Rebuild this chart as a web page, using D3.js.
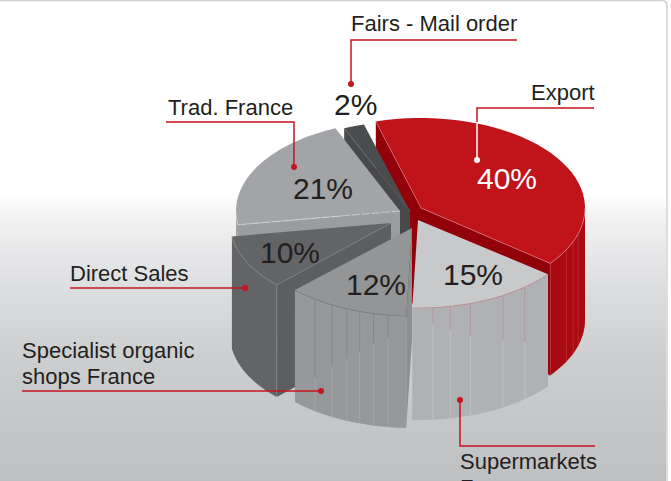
<!DOCTYPE html>
<html><head><meta charset="utf-8">
<script src="https://cdnjs.cloudflare.com/ajax/libs/d3/7.8.5/d3.min.js"></script>
<style>html,body{margin:0;padding:0;background:#fff;overflow:hidden}svg{display:block}text{font-family:"Liberation Sans",Arial,sans-serif;fill:#231f20}</style>
</head><body><svg id="c" width="671" height="481"></svg>
<script>
// ---- data ----
const categories = ["Export","Supermarkets France","Specialist organic shops France","Direct Sales","Trad. France","Fairs - Mail order"];
const values = [40,15,12,10,21,2];
const valueLabels = ["40%","15%","12%","10%","21%","2%"];

// ---- layout / style ----
const W=671,H=481,DEPTH=112,START=-16;
const centers=[[421,208],[418,220],[412,228],[391,223],[400,211],[410,211]];
const radii=[[164,90],[165,88],[165,88],[161,88],[164,90],[167,90]];
const topFill=["#c0131a","#c8c9cb","#949597","#636466","#a3a4a7","#4a4c4e"];
const wallFill=["#a90a12","#b0b1b4","#97989a","#636466","#a0a1a4","#47494b"];
const sideFill=["#92000a","#b0b1b4","#8d8e90","#5d5e60","#9b9c9f","#47494b"];
const rimStroke=["#e58a8f","#c08f92","#77787a","#8d8e90","#d9dadb","#6a6c6e"];
const paintOrder=[0,5,4,3,2,1];
const seams=[[117.6,111.9,106.7,128],[174.8,168.7,161.5,149,139.7],[216,209,203.3,198.5,193.5,188.3],[],[],[]];
const seamSplit=[[112,112,112,112],[16,23,32,45,55],[78,62,50,40,30,22],[],[],[]];
const labelStyle={size:22};
const texts=[
 {lines:["Fairs - Mail order"],x:351,y:31},
 {lines:["Export"],x:531,y:100},
 {lines:["Trad. France"],x:168,y:115},
 {lines:["Direct Sales"],x:70,y:281},
 {lines:["Specialist organic","shops France"],x:22,y:358},
 {lines:["Supermarkets","France"],x:460,y:469}
];
const pctPos=[[477,189],[443,285],[346,295],[260,263],[293,199],[334,115]];
const leaders=[
 {pts:[[351,84],[351,40],[517,40]]},
 {pts:[[477,122],[477,108],[594,108]],white:[[477,160],[477,122]]},
 {pts:[[294,167],[294,122],[166,122]]},
 {pts:[[245,288],[70,288]]},
 {pts:[[321,391],[22,391]]},
 {pts:[[460,400],[460,446],[595,446]]}
];
const RED="#c4161f";

const svg=d3.select("#c");
const defs=svg.append("defs");
const bg=defs.append("linearGradient").attr("id","bg").attr("x1",0).attr("x2",0).attr("y1",0).attr("y2",1);
[[0,"#fff"],[0.405,"#fff"],[0.464,"#f0f0f1"],[0.603,"#dcdddf"],[0.742,"#cdcecf"],[0.879,"#c5c6c8"],[1,"#bfc0c2"]].forEach(s=>bg.append("stop").attr("offset",s[0]).attr("stop-color",s[1]));
svg.append("rect").attr("width",666).attr("height",H).attr("fill","url(#bg)");
svg.append("path").attr("d","M0,0.5H662Q667,0.5 667,6V481").attr("fill","none").attr("stroke","#d2d2d3").attr("stroke-width",1.5);

const rad=d=>d*Math.PI/180;
const pie=d3.pie().sort(null).startAngle(rad(START)).endAngle(rad(START+360));
const arcs=pie(values);
const line=d3.line();
const pt=(i,t)=>[centers[i][0]+radii[i][0]*Math.sin(t),centers[i][1]-radii[i][1]*Math.cos(t)];
const sample=(i,a,b)=>d3.range(0,41).map(k=>pt(i,a+(b-a)*k/40));
const down=p=>[p[0],p[1]+DEPTH];

paintOrder.forEach(i=>{
  const a=arcs[i],g=svg.append("g");
  const c=centers[i];
  if(Math.cos(a.startAngle-Math.PI/2)<0){
    const e=pt(i,a.startAngle);
    g.append("path").attr("d",line([c,e,down(e),down(c)])+"Z").attr("fill",sideFill[i]);
  }
  if(Math.cos(a.endAngle+Math.PI/2)<0){
    const e=pt(i,a.endAngle);
    g.append("path").attr("d",line([c,e,down(e),down(c)])+"Z").attr("fill",sideFill[i]);
  }
  const lo=Math.max(a.startAngle,rad(90)),hi=Math.min(a.endAngle,rad(270));
  if(hi>lo){
    const up=sample(i,lo,hi);
    g.append("path").attr("d",line(up.concat(up.map(down).reverse()))+"Z").attr("fill",wallFill[i]);
    seams[i].forEach((deg,k)=>{
      const p=pt(i,rad(deg)),q=down(p),m=[p[0],p[1]+seamSplit[i][k]];
      const light=i===0?"#c2323a":i===1?"#c6c7c9":"#a9aaac";
      const dark=i===0?"#c2323a":i===1?"#b58f93":"#7f8082";
      g.append("path").attr("d",line([m,q])).attr("stroke",light).attr("stroke-width",.7).attr("fill","none");
      g.append("path").attr("d",line([p,m])).attr("stroke",dark).attr("stroke-width",.7).attr("fill","none");
    });
  }
  const rim=sample(i,a.startAngle,a.endAngle);
  g.append("path").attr("d",line([c].concat(rim))+"Z").attr("fill",topFill[i]);
  if(hi>lo){
    const r=sample(i,lo,hi);
    g.append("path").attr("d",line(r)).attr("fill","none").attr("stroke",rimStroke[i]).attr("stroke-width",.7);
  }
  if(i===0){
    const e=pt(i,a.endAngle);
    g.append("path").attr("d",line([c,e])).attr("stroke",rimStroke[i]).attr("stroke-width",.6).attr("fill","none");
    const s=pt(i,a.startAngle);
    g.append("path").attr("d",line([c,s])).attr("stroke",rimStroke[i]).attr("stroke-width",.5).attr("fill","none");
  }
  if(i===3){
    const s=pt(i,a.startAngle);
    g.append("path").attr("d",line([c,s])).attr("stroke",rimStroke[i]).attr("stroke-width",.6).attr("fill","none");
    g.append("path").attr("d",line([s,down(s)])).attr("stroke",rimStroke[i]).attr("stroke-width",.7).attr("fill","none");
  }
  if(i===4){
    const s=pt(i,a.startAngle);
    g.append("path").attr("d",line([c,s])).attr("stroke",rimStroke[i]).attr("stroke-width",.8).attr("stroke-dasharray","9 1").attr("fill","none");
  }
  if(i===5){
    const s=pt(i,a.startAngle);
    g.append("path").attr("d",line([c,s])).attr("stroke",rimStroke[i]).attr("stroke-width",.6).attr("fill","none");
  }
});

leaders.forEach(l=>{
  svg.append("path").attr("d",line(l.pts)).attr("fill","none").attr("stroke",RED).attr("stroke-width",1.5);
  if(l.white){
    svg.append("path").attr("d",line(l.white)).attr("fill","none").attr("stroke","#fff").attr("stroke-width",1.5);
    svg.append("circle").attr("cx",l.white[0][0]).attr("cy",l.white[0][1]).attr("r",3).attr("fill","#fff");
  } else {
    svg.append("circle").attr("cx",l.pts[0][0]).attr("cy",l.pts[0][1]).attr("r",3).attr("fill",RED);
  }
});

texts.forEach(t=>{
  t.lines.forEach((s,k)=>{
    svg.append("text").attr("x",t.x).attr("y",t.y+k*26).attr("font-size",labelStyle.size).text(s);
  });
});
valueLabels.forEach((s,i)=>{
  svg.append("text").attr("x",pctPos[i][0]).attr("y",pctPos[i][1]).attr("font-size",30)
    .style("fill",i===0?"#fff":"#231f20").text(s);
});
</script></body></html>
